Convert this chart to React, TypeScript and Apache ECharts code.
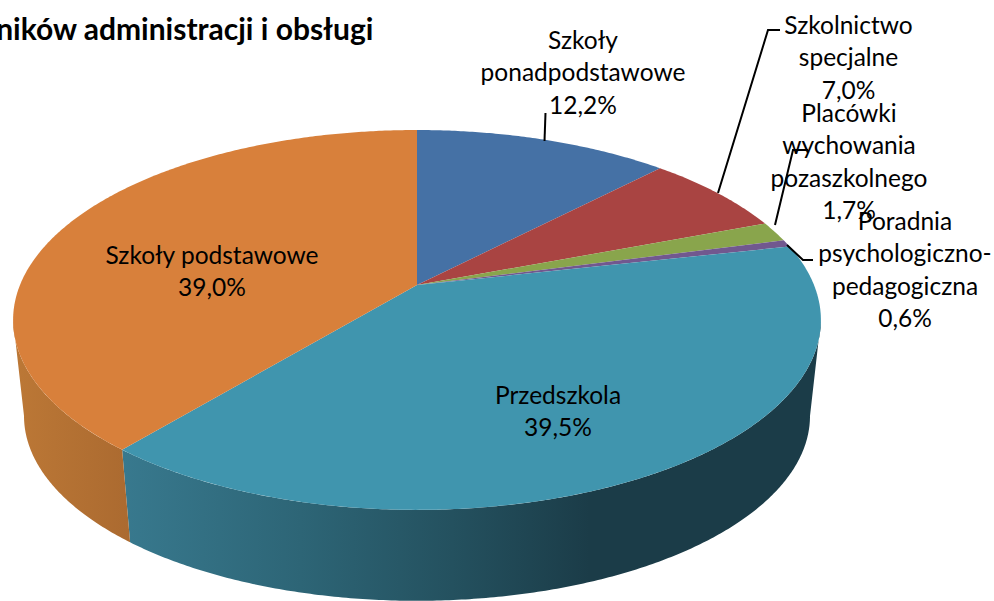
import React, { useEffect, useRef } from "react";
import * as echarts from "echarts";

const titleText = "ników administracji i obsługi";
const categories = [
  "Szkoły ponadpodstawowe",
  "Szkolnictwo specjalne",
  "Placówki wychowania pozaszkolnego",
  "Poradnia psychologiczno-pedagogiczna",
  "Przedszkola",
  "Szkoły podstawowe",
];
const shares = [12.2, 7.0, 1.7, 0.6, 39.5, 39.0];
const labelLines = [
  ["Szkoły", "ponadpodstawowe", "12,2%"],
  ["Szkolnictwo", "specjalne", "7,0%"],
  ["Placówki", "wychowania", "pozaszkolnego", "1,7%"],
  ["Poradnia", "psychologiczno-", "pedagogiczna", "0,6%"],
  ["Przedszkola", "39,5%"],
  ["Szkoły podstawowe", "39,0%"],
];
const topColors = ["#4571a5", "#a94442", "#89a54c", "#71588f", "#4095ae", "#d8803b"];

// Layout of the tilted disc
const CX = 417, CY = 285, RX = 397, RY = 183.5, K = 0.184;
const DEPTH = 97, BOTTOM_SCALE = 0.973;
const FONT = "Lato";
const LABEL_SIZE = 24.5;
const LINE_H = 32.5;
const labelCenters = [
  [583, 39], [848.5, 24], [849, 112], [905, 220], [558, 394], [212, 254],
];
const leaders = [
  [[544.5, 141], [545.5, 113]],
  [[718, 193], [768, 30], [780, 30]],
  [[775, 225], [793, 150], [808, 150]],
  [[787, 245], [803, 260], [813, 260]],
  null,
  null,
];

const project = (deg: number, bottom = false): number[] => {
  const t = (deg * Math.PI) / 180;
  const x = Math.sin(t);
  const f = -Math.cos(t);
  const w = 1 - K * f;
  const px = (RX * x) / w;
  const py = (RY * f) / w;
  return bottom
    ? [CX + px * BOTTOM_SCALE, CY + DEPTH + py * BOTTOM_SCALE]
    : [CX + px, CY + py];
};

const arc = (a: number, b: number, bottom = false): number[][] => {
  const pts: number[][] = [];
  const n = Math.max(2, Math.ceil(Math.abs(b - a) * 2));
  for (let i = 0; i <= n; i++) pts.push(project(a + ((b - a) * i) / n, bottom));
  return pts;
};

const total = shares.reduce((s, v) => s + v, 0);
const startAngle = (i: number) =>
  (shares.slice(0, i).reduce((s, v) => s + v, 0) / total) * 360;

const TANGENT_A = 90 + (Math.asin(K) * 180) / Math.PI;
const TANGENT_B = 360 - TANGENT_A;

const wallFill = (i: number) =>
  i === 4
    ? new echarts.graphic.LinearGradient(122, 0, 810, 0, [
        { offset: 0, color: "#38798e" },
        { offset: 0.26, color: "#2d6576" },
        { offset: 0.48, color: "#24515f" },
        { offset: 0.68, color: "#1b3c48" },
        { offset: 1, color: "#1b3c48" },
      ], true)
    : new echarts.graphic.LinearGradient(13, 0, 130, 0, [
        { offset: 0, color: "#bc7836" },
        { offset: 1, color: "#ab6a30" },
      ], true);

const renderWall = (params: any, api: any) => {
  const i = api.value(1);
  const a = Math.max(startAngle(i), TANGENT_A);
  const b = Math.min(startAngle(i) + (api.value(0) / total) * 360, TANGENT_B);
  if (b <= a) return { type: "group", children: [] };
  return {
    type: "polygon",
    shape: { points: [...arc(a, b), ...arc(b, a, true)] },
    style: { fill: wallFill(i) },
    silent: true,
  };
};

const renderTop = (params: any, api: any) => {
  const i = api.value(1);
  const a = startAngle(i);
  const b = a + (api.value(0) / total) * 360;
  return {
    type: "polygon",
    shape: { points: [[CX, CY], ...arc(a, b)] },
    style: { fill: topColors[i] },
  };
};

const renderLabel = (params: any, api: any) => {
  const i = api.value(1);
  const [lx, ly] = labelCenters[i];
  const children: any[] = [];
  const lead = leaders[i];
  if (lead) {
    children.push({
      type: "polyline",
      shape: { points: lead },
      style: { stroke: "#000", lineWidth: 2, fill: "none" },
    });
  }
  labelLines[i].forEach((line, n) => {
    children.push({
      type: "text",
      x: lx,
      y: ly + n * LINE_H,
      style: {
        text: line,
        fill: "#000",
        font: `${LABEL_SIZE}px ${FONT}`,
        textAlign: "center",
        textVerticalAlign: "middle",
      },
    });
  });
  return { type: "group", children };
};

export default function App() {
  const ref = useRef<HTMLDivElement>(null);
  useEffect(() => {
    document.body.style.margin = "0";
    const chart = echarts.init(ref.current!, undefined, { renderer: "svg" });
    const data = categories.map((name, i) => ({ name, value: [shares[i], i] }));
    chart.setOption({
      animation: false,
      backgroundColor: "#fff",
      title: {
        text: titleText,
        right: 994 - 374,
        top: 13,
        textStyle: { fontFamily: FONT, fontWeight: "bold", fontSize: 30, color: "#000" },
        padding: 0,
      },
      series: [
        { type: "custom", name: "Ściany", coordinateSystem: "none", renderItem: renderWall, data, z: 1, silent: true },
        { type: "custom", name: "Udział", coordinateSystem: "none", renderItem: renderTop, data, z: 2, silent: true },
        { type: "custom", name: "Etykiety", coordinateSystem: "none", renderItem: renderLabel, data, z: 3, silent: true },
      ],
    });
    return () => chart.dispose();
  }, []);
  return <div ref={ref} style={{ width: 994, height: 601 }} />;
}
